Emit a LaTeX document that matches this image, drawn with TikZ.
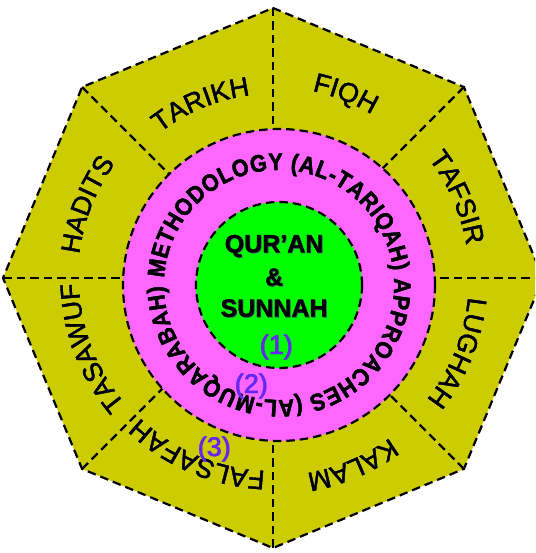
\documentclass[tikz,border=0pt]{standalone}
\usepackage{fontspec}
\setmainfont{Liberation Sans}
\newfontfamily\ringfam[FakeStretch=0.9,FakeBold=1.2]{Liberation Sans}
\newfontfamily\outfam[FakeBold=0.7]{Liberation Sans}
\newfontfamily\corefam[FakeBold=0.8]{Liberation Sans}
\newfontfamily\numfam[FakeBold=0.5]{Liberation Sans}
\usetikzlibrary{decorations.text}
\definecolor{octfill}{RGB}{204,204,0}
\definecolor{ringfill}{RGB}{255,102,255}
\definecolor{corefill}{RGB}{0,255,0}
\definecolor{numcol}{RGB}{100,40,240}
\definecolor{shadowblue}{RGB}{30,50,150}
\definecolor{shadowgray}{RGB}{70,70,110}
\newcommand\olfont{\outfam\fontsize{27}{27}\selectfont}
\newcommand\rgfont{\ringfam\bfseries\fontsize{24}{24}\selectfont}
% outer label: angle, baseline radius, text
\newcommand\olabel[3]{%
  \path[shift={(0.9,-0.9)},decorate,decoration={text along path,text align=center,
    text={|\color{shadowblue}\olfont|#3}}]
    (O) ++(#1+40:#2) arc[start angle=#1+40,end angle=#1-40,radius=#2];
  \path[decorate,decoration={text along path,text align=center,text={|\olfont|#3}}]
    (O) ++(#1+40:#2) arc[start angle=#1+40,end angle=#1-40,radius=#2];}
\newcommand\ringtext[2]{%
  \path[shift={#2},decorate,decoration={text along path,text align=fit to path,
    text={|\color{#1}\rgfont|METHODOLOGY (AL-TARIQAH) APPROACHES (AL-MUQARABAH)}}]
    (C) ++(176.5:115pt) arc[start angle=176.5,end angle=-179.5,radius=115pt];}
\begin{document}
\begin{tikzpicture}[x=1pt,y=1pt,
  dashline/.style={draw=black,line width=2.2pt,dash pattern=on 8.5pt off 5pt},
  numlab/.style={text=numcol,font=\numfam\fontsize{27}{27}\selectfont,inner sep=0pt},
  corelab/.style={font=\corefam\bfseries\fontsize{25}{25}\selectfont,inner sep=0pt}]
\useasboundingbox (0,0) rectangle (535,553);
\clip (0,0) rectangle (535,553);
\coordinate (O) at (273,275);
\coordinate (C) at (279,268);
\foreach \i in {0,...,7} {\path (O) ++(\i*45:270pt) coordinate (V\i);}
\fill[octfill] (V0)--(V1)--(V2)--(V3)--(V4)--(V5)--(V6)--(V7)--cycle;
\foreach \i in {0,...,7} {\draw[dashline] (V\i) -- (O);}
\draw[dashline] (V0)--(V1)--(V2)--(V3)--(V4)--(V5)--(V6)--(V7)--cycle;
\draw[dashline,fill=ringfill] (C) circle[radius=156pt];
\draw[dashline,fill=corefill] (C) circle[radius=83pt];
\ringtext{shadowgray}{(0.8,-0.8)}
\ringtext{black}{(0,0)}
\olabel{112.5}{184pt}{TARIKH}
\olabel{68.5}{191pt}{FIQH}
\olabel{23.5}{196pt}{TAFSIR}
\olabel{-22}{196pt}{LUGHAH}
\olabel{-67}{198pt}{KALAM}
\olabel{-113}{193pt}{FALSAFAH}
\olabel{-159}{194pt}{TASAWUF}
\olabel{158.5}{195pt}{HADITS}
\foreach \t/\y/\n in {QUR’AN/307/qur,\&/276/amp,SUNNAH/245/sun}{
  \node[corelab,text=shadowgray] (\n s) at (274.8,\y-0.8) {\t};
  \node[corelab] (\n) at (274,\y) {\t};}
\foreach \k/\x/\y in {1/276/206,2/251/167,3/214/104}{
  \node[numlab] (n\k b) at (\x+0.6,\y) {(\k)};
  \node[numlab] (n\k) at (\x,\y) {(\k)};}
\end{tikzpicture}
\end{document}
